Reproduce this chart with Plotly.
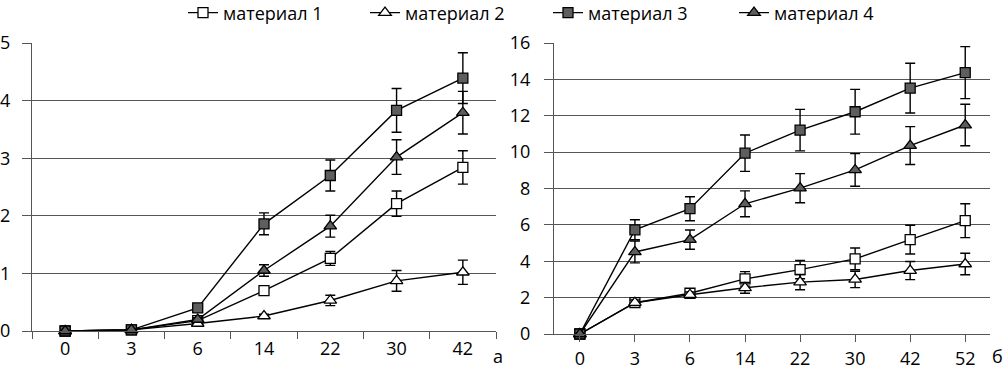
import plotly.graph_objects as go

# ---- data: panel а ----
cats_a = ["0", "3", "6", "14", "22", "30", "42"]
m1_a = [0, 0.02, 0.18, 0.70, 1.26, 2.21, 2.84]
m1_a_err = [0, 0.01, 0.03, 0.05, 0.12, 0.22, 0.29]
m2_a = [0, 0.02, 0.13, 0.26, 0.53, 0.87, 1.02]
m2_a_err = [0, 0.01, 0.02, 0.03, 0.09, 0.18, 0.21]
m3_a = [0, 0.02, 0.40, 1.86, 2.70, 3.83, 4.39]
m3_a_err = [0, 0.01, 0.03, 0.19, 0.27, 0.38, 0.44]
m4_a = [0, 0.02, 0.20, 1.05, 1.82, 3.02, 3.79]
m4_a_err = [0, 0.01, 0.03, 0.10, 0.19, 0.30, 0.37]

# ---- data: panel б ----
cats_b = ["0", "3", "6", "14", "22", "30", "42", "52"]
m1_b = [0, 1.72, 2.24, 3.03, 3.54, 4.13, 5.19, 6.23]
m1_b_err = [0, 0.15, 0.2, 0.4, 0.5, 0.6, 0.79, 0.93]
m2_b = [0, 1.72, 2.16, 2.54, 2.85, 3.00, 3.49, 3.85]
m2_b_err = [0, 0.15, 0.15, 0.3, 0.42, 0.45, 0.5, 0.59]
m3_b = [0, 5.73, 6.89, 9.94, 11.21, 12.22, 13.52, 14.37]
m3_b_err = [0, 0.55, 0.66, 1.0, 1.14, 1.23, 1.37, 1.43]
m4_b = [0, 4.51, 5.19, 7.16, 8.02, 9.02, 10.36, 11.49]
m4_b_err = [0, 0.6, 0.53, 0.71, 0.8, 0.9, 1.04, 1.14]

names = ["материал 1", "материал 2", "материал 3", "материал 4"]
FONT = "Open Sans"
DARK = "#5e5e5e"

styles = [
    dict(symbol="square", color="white", size=10),
    dict(symbol="triangle-up", color="white", size=11),
    dict(symbol="square", color=DARK, size=10),
    dict(symbol="triangle-up", color=DARK, size=11),
]
legend_ids = ["legend", "legend2", "legend3", "legend4"]
legend_x_px = [183, 365, 548, 734]

fig = go.Figure()

series_a = [(m1_a, m1_a_err), (m2_a, m2_a_err), (m3_a, m3_a_err), (m4_a, m4_a_err)]
series_b = [(m1_b, m1_b_err), (m2_b, m2_b_err), (m3_b, m3_b_err), (m4_b, m4_b_err)]

for i, (vals, err) in enumerate(series_a):
    st = styles[i]
    fig.add_trace(go.Scatter(
        x=cats_a, y=vals, name=names[i], legendgroup=names[i], showlegend=True,
        legend=legend_ids[i],
        mode="lines+markers", cliponaxis=False,
        line=dict(color="black", width=1.4),
        marker=dict(symbol=st["symbol"], size=st["size"], color=st["color"],
                    line=dict(color="black", width=1.3)),
        error_y=dict(type="data", array=err, visible=True, color="black",
                     thickness=1.4, width=5),
        xaxis="x", yaxis="y"))

for i, (vals, err) in enumerate(series_b):
    st = styles[i]
    fig.add_trace(go.Scatter(
        x=cats_b, y=vals, name=names[i], legendgroup=names[i], showlegend=False,
        mode="lines+markers", cliponaxis=False,
        line=dict(color="black", width=1.4),
        marker=dict(symbol=st["symbol"], size=st["size"], color=st["color"],
                    line=dict(color="black", width=1.3)),
        error_y=dict(type="data", array=err, visible=True, color="black",
                     thickness=1.4, width=5),
        xaxis="x2", yaxis="y2"))

W, H = 1004, 369
GRID = "#555555"
tickfont = dict(family=FONT, size=18, color="black")

legend_defs = {}
for lid, xpx in zip(legend_ids, legend_x_px):
    legend_defs[lid] = dict(
        orientation="h", x=xpx / W, y=1.015, xanchor="left", yanchor="top",
        font=dict(family=FONT, size=18, color="black"),
        bgcolor="rgba(0,0,0,0)", itemclick=False)

fig.update_layout(
    template="none",
    width=W, height=H,
    margin=dict(l=0, r=0, t=0, b=0, autoexpand=False),
    paper_bgcolor="white", plot_bgcolor="white",
    font=dict(family=FONT, size=17, color="black"),
    showlegend=True,
    **legend_defs,
    xaxis=dict(type="category", domain=[32 / W, 496 / W], anchor="y",
               range=[-0.5, 6.5], showline=True, linecolor=GRID, linewidth=1,
               ticks="outside", ticklen=7, tickcolor=GRID, tickson="boundaries",
               showgrid=False, zeroline=False, tickfont=tickfont,
               ticklabelstandoff=1, automargin=False, fixedrange=True),
    yaxis=dict(domain=[(H - 331) / H, (H - 43) / H], anchor="x",
               range=[0, 5], dtick=1, showline=True, linecolor=GRID,
               showgrid=True, gridcolor=GRID, gridwidth=1, zeroline=False,
               ticks="outside", ticklen=9, tickcolor=GRID,
               tickfont=tickfont, ticklabelstandoff=8, automargin=False,
               fixedrange=True),
    xaxis2=dict(type="category", domain=[554 / W, 990 / W], anchor="y2",
                range=[-0.47, 7.45], showline=True, linecolor=GRID, linewidth=1,
                ticks="outside", ticklen=7, tickcolor=GRID,
                showgrid=False, zeroline=False, tickfont=tickfont,
                ticklabelstandoff=1, automargin=False, fixedrange=True),
    yaxis2=dict(domain=[(H - 334) / H, (H - 43) / H], anchor="x2",
                range=[0, 16], dtick=2, showline=True, linecolor=GRID,
                showgrid=True, gridcolor=GRID, gridwidth=1, zeroline=False,
                ticks="outside", ticklen=9, tickcolor=GRID,
                tickfont=tickfont, ticklabelstandoff=10, automargin=False,
                fixedrange=True),
    annotations=[
        dict(text="а", x=498 / W, y=(H - 356) / H, xref="paper", yref="paper",
             showarrow=False, font=dict(family=FONT, size=18, color="black"),
             xanchor="center", yanchor="middle"),
        dict(text="б", x=997 / W, y=(H - 356) / H, xref="paper", yref="paper",
             showarrow=False, font=dict(family=FONT, size=18, color="black"),
             xanchor="center", yanchor="middle"),
    ],
)

fig.write_html("out.html",
               config={"displayModeBar": False},
               post_script="document.body.style.margin='0';"
                           "document.body.style.overflow='hidden';")
